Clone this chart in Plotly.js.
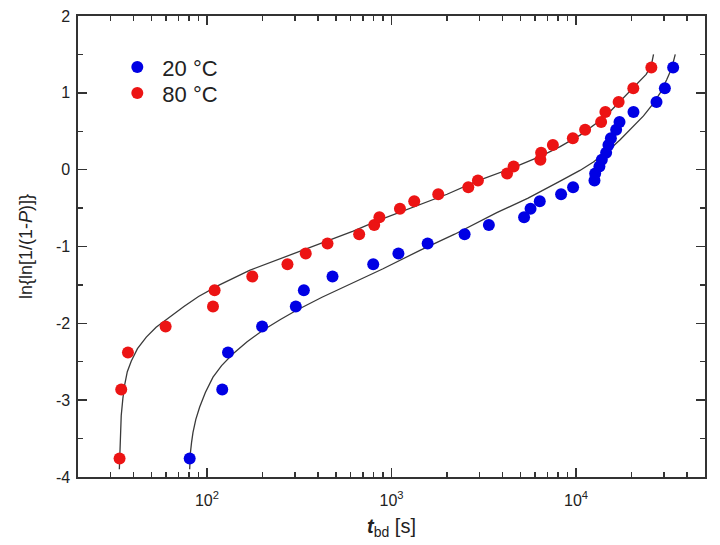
<!DOCTYPE html>
<html>
<head>
<meta charset="utf-8">
<script src="https://cdn.plot.ly/plotly-3.0.1.min.js"></script>
<style>html,body{margin:0;padding:0;background:#fff;}#chart{width:720px;height:545px;}</style>
</head>
<body>
<div id="chart"></div>
<script>
// Rank-based Weibull ordinate, ln{ln[1/(1-P)]} (shared by both series)
const weibullY = [-3.76, -2.86, -2.38, -2.04, -1.78, -1.57, -1.39, -1.23, -1.09, -0.96,
                  -0.84, -0.72, -0.62, -0.51, -0.41, -0.32, -0.23, -0.14, -0.05, 0.04,
                  0.13, 0.22, 0.32, 0.41, 0.52, 0.62, 0.75, 0.88, 1.06, 1.33];
// Breakdown times t_bd [s]
const t20 = [80.6, 121, 130, 199, 303, 335, 479, 796, 1090, 1570,
             2490, 3370, 5230, 5670, 6360, 8300, 9640, 12590, 12700, 13390,
             13800, 14560, 14990, 15450, 16500, 17210, 20480, 27300, 30300, 33600];
const t80 = [33.6, 34.3, 37.3, 59.7, 107.8, 110, 176, 273, 343, 450,
             668, 806, 860, 1111, 1328, 1792, 2607, 2940, 4230, 4590,
             6410, 6470, 7490, 9610, 11200, 13680, 14420, 17020, 20440, 25600];
// Fit curves
const fit20X = [80.6, 81.2, 82.5, 84, 87, 91.3, 98, 107.8, 120, 138, 165, 201, 250, 306, 420, 620, 900,
                1426, 2200, 3720, 5500, 8200, 10500, 12420, 15000, 17340, 20000, 23210, 26000, 28590, 31000, 33000, 34500];
const fit20Y = [-3.90, -3.70, -3.55, -3.42, -3.25, -3.09, -2.90, -2.70, -2.55, -2.40, -2.24, -2.09, -1.95, -1.83, -1.66, -1.47, -1.29,
                -1.05, -0.84, -0.56, -0.37, -0.15, -0.01, 0.10, 0.25, 0.39, 0.54, 0.70, 0.85, 1.00, 1.17, 1.32, 1.50];
const fit80X = [33.5, 33.8, 34.3, 35.0, 35.8, 37.0, 38.9, 42, 46.9, 53, 60.2, 75, 90, 117, 170, 270, 409, 620, 850,
                1300, 2000, 2900, 4500, 6500, 8200, 10520, 13000, 15500, 17500, 20480, 22500, 24000, 25600, 26300];
const fit80Y = [-3.90, -3.50, -3.20, -2.98, -2.80, -2.63, -2.49, -2.33, -2.18, -2.05, -1.95, -1.78, -1.65, -1.50, -1.31, -1.13, -0.97, -0.80, -0.66,
                -0.49, -0.32, -0.15, 0.02, 0.18, 0.30, 0.45, 0.61, 0.77, 0.90, 1.06, 1.16, 1.24, 1.36, 1.50];
// Axis ticks
const xTickVals = [100, 1000, 10000];
const xTickText = ['10<sup>2</sup>', '10<sup>3</sup>', '10<sup>4</sup>'];
const xMinorVals = [30, 40, 50, 60, 70, 80, 90, 200, 300, 400, 500, 600, 700, 800, 900,
                    2000, 3000, 4000, 5000, 6000, 7000, 8000, 9000, 20000, 30000, 40000];
const yTickVals = [-4, -3, -2, -1, 0, 1, 2];
const yTickText = ['-4', '-3', '-2', '-1', '0', '1', '2'];
const seriesNames = ['20 °C', '80 °C'];

const blue = 'rgb(0,0,228)';
const red = 'rgb(236,20,20)';
const axisColor = '#333';
const fontFam = 'Liberation Sans, Arial, sans-serif';

const fitLine = {color: '#3a3a3a', width: 1.3, shape: 'linear'};
const traces = [
  {x: fit20X, y: fit20Y, mode: 'lines', line: fitLine, showlegend: false, hoverinfo: 'skip'},
  {x: fit80X, y: fit80Y, mode: 'lines', line: fitLine, showlegend: false, hoverinfo: 'skip'},
  {x: t20, y: weibullY, mode: 'markers', name: seriesNames[0], marker: {color: blue, size: 12}, legend: 'legend'},
  {x: t80, y: weibullY, mode: 'markers', name: seriesNames[1], marker: {color: red, size: 12}, legend: 'legend2'}
];

const legendBase = {xanchor: 'left', yanchor: 'middle', bgcolor: 'rgba(0,0,0,0)',
                    font: {size: 22, family: fontFam, color: '#222'}, itemwidth: 40};

const layout = {
  width: 720, height: 545,
  margin: {l: 78, r: 15, t: 16, b: 68},
  paper_bgcolor: '#fff', plot_bgcolor: '#fff',
  font: {family: fontFam, color: '#222', size: 15},
  showlegend: true,
  legend: Object.assign({x: 0.0547, y: 0.8887}, legendBase),
  legend2: Object.assign({x: 0.0547, y: 0.8323}, legendBase),
  xaxis: {
    type: 'log', range: [Math.log10(20), Math.log10(50000)],
    tickmode: 'array', tickvals: xTickVals, ticktext: xTickText,
    ticks: 'inside', ticklen: 9, tickwidth: 1.6, tickcolor: axisColor, ticklabelstandoff: 8,
    minor: {tickmode: 'array', tickvals: xMinorVals, ticks: 'inside', ticklen: 5, tickwidth: 1.4, tickcolor: axisColor, showgrid: false},
    showline: true, linecolor: axisColor, linewidth: 1.6, mirror: 'ticks',
    showgrid: false, zeroline: false,
    tickfont: {size: 16, family: fontFam, color: '#222'},
    title: {text: '<b><i>t</i></b><sub>bd</sub> [s]', font: {size: 20, family: fontFam, color: '#222'}, standoff: 11}
  },
  yaxis: {
    range: [-4, 2], tickmode: 'array', tickvals: yTickVals, ticktext: yTickText,
    ticks: 'inside', ticklen: 9, tickwidth: 1.6, tickcolor: axisColor, ticklabelstandoff: 3,
    minor: {tickmode: 'linear', dtick: 0.5, tick0: -4, ticks: 'inside', ticklen: 5, tickwidth: 1.4, tickcolor: axisColor, showgrid: false},
    showline: true, linecolor: axisColor, linewidth: 1.6, mirror: 'ticks',
    showgrid: false, zeroline: false,
    tickfont: {size: 16, family: fontFam, color: '#222'},
    title: {text: 'ln{ln[1/(1-<i>P</i>)]}', font: {size: 18, family: fontFam, color: '#222'}, standoff: 18}
  }
};

Plotly.newPlot('chart', traces, layout, {staticPlot: true, displayModeBar: false});
</script>
</body>
</html>
